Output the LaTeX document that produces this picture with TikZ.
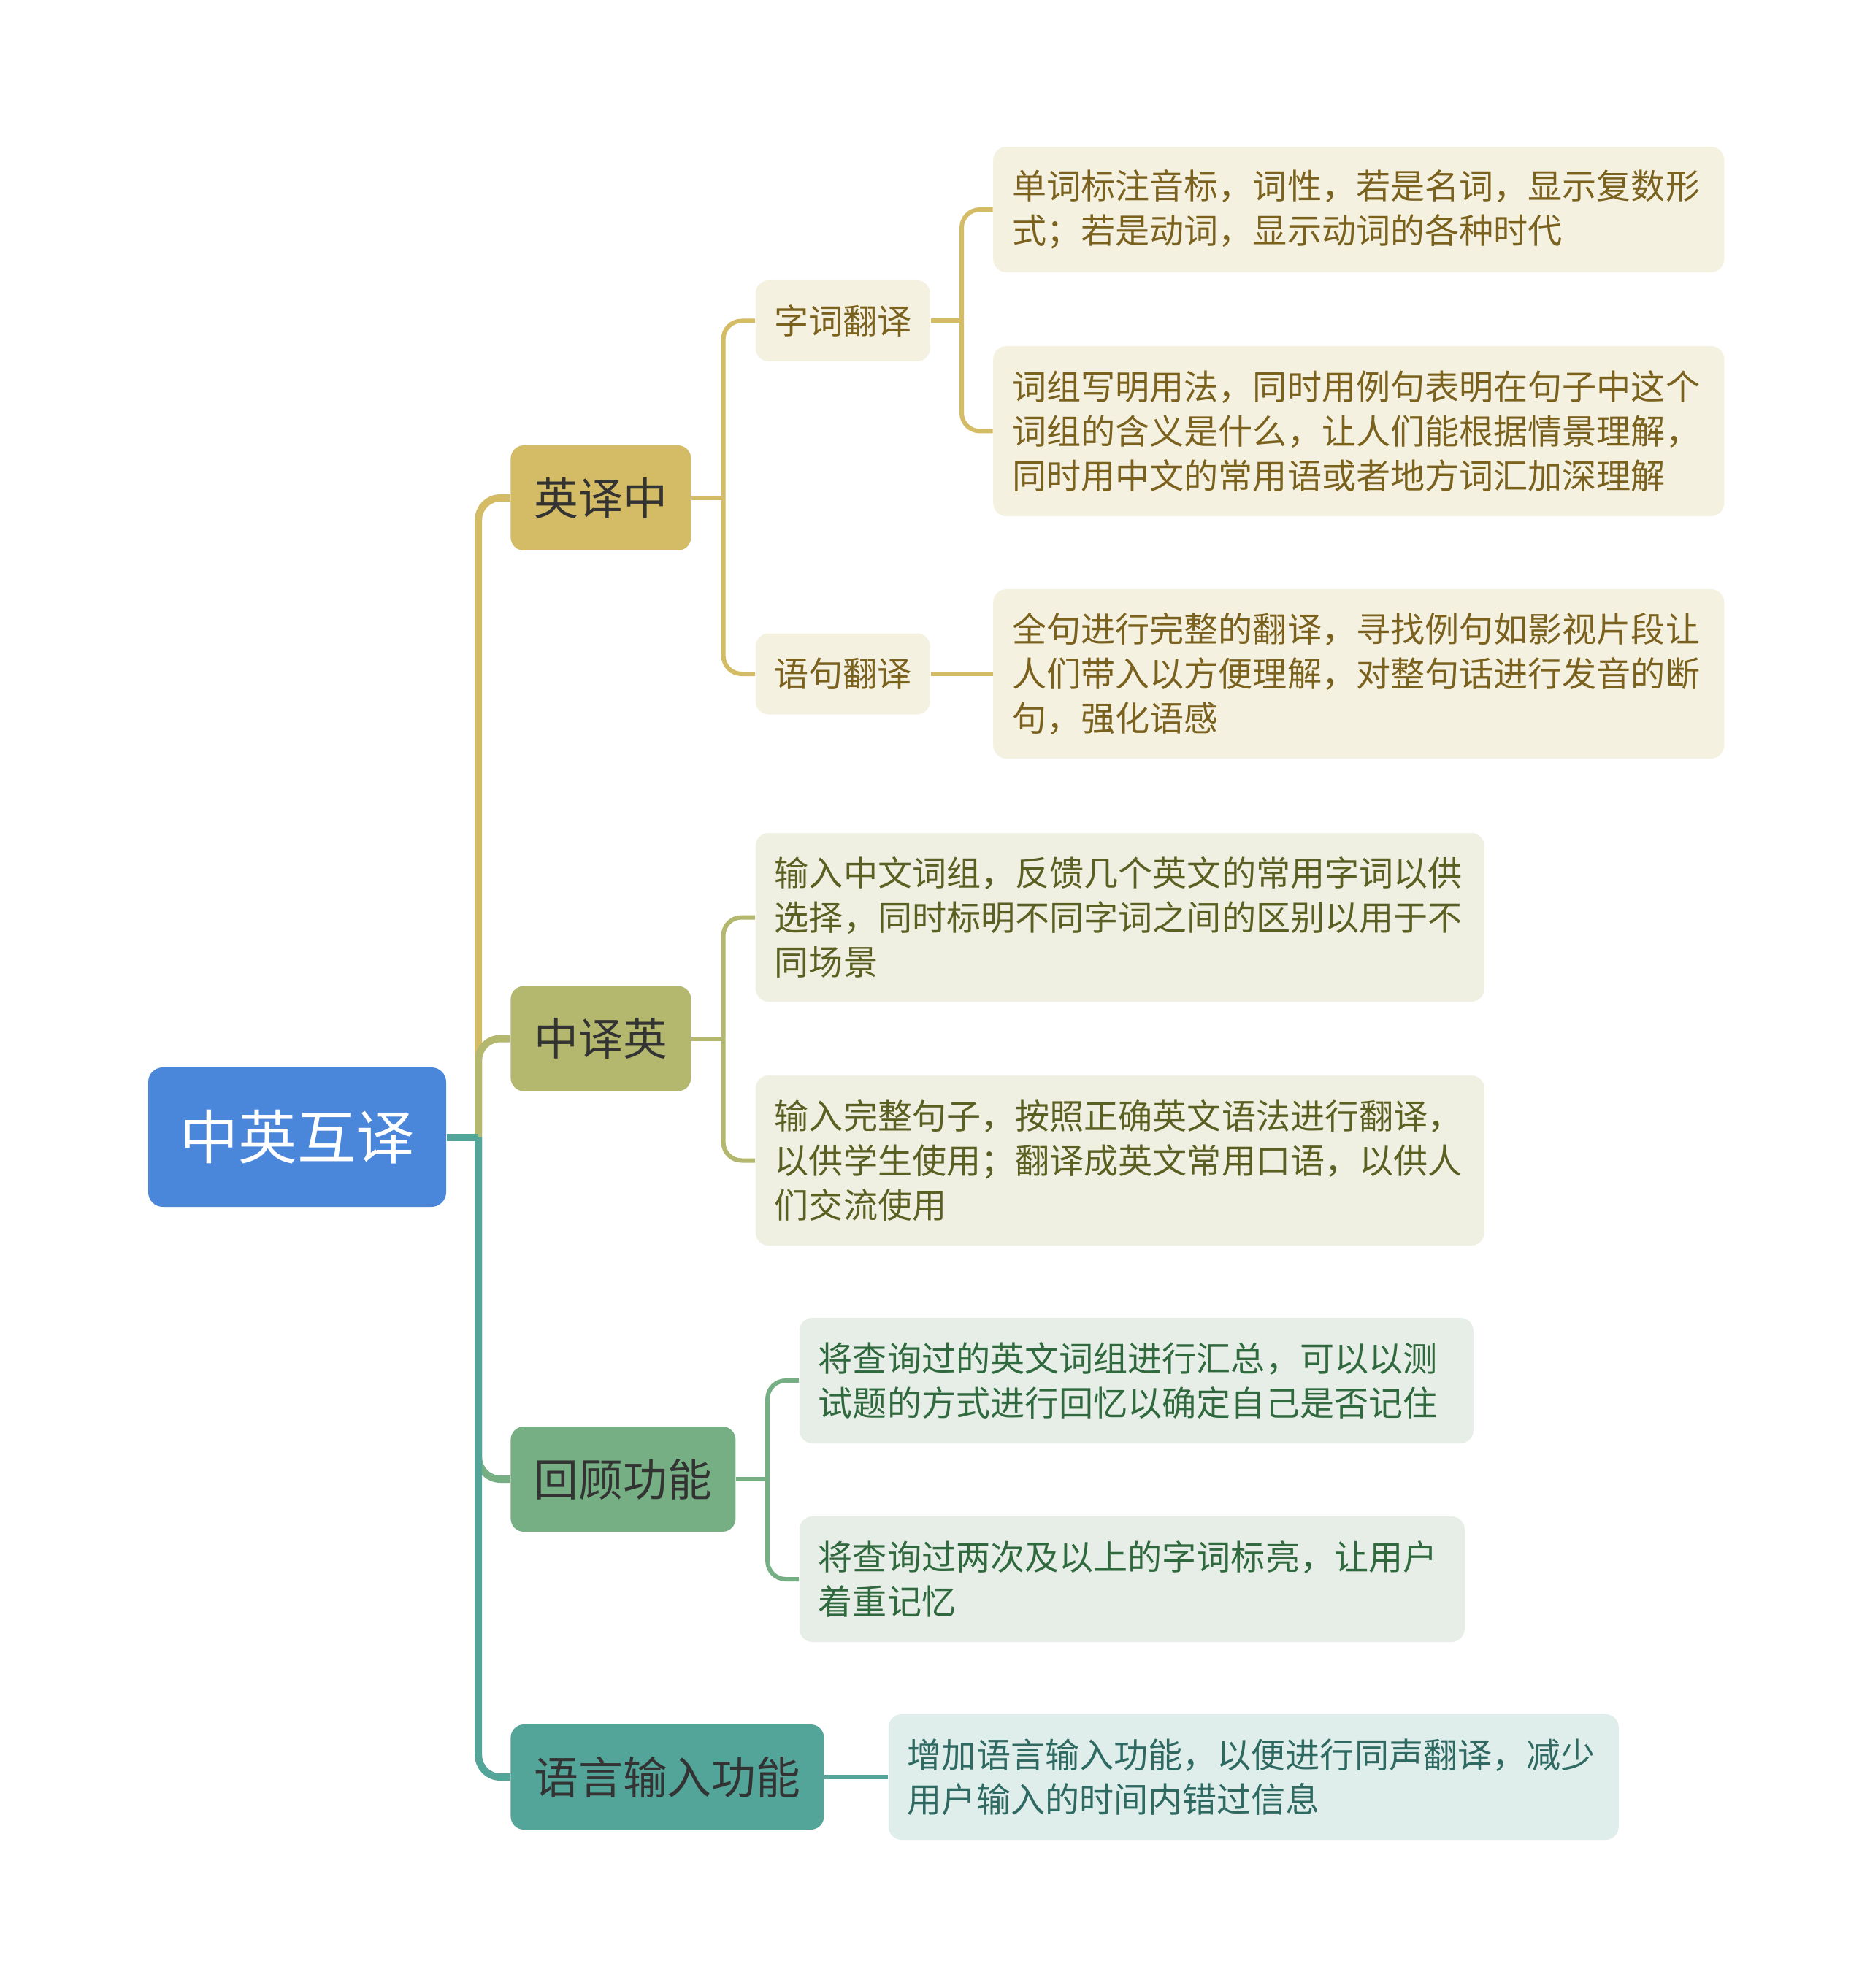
\documentclass[tikz,border=0pt]{standalone}
\usepackage{fontspec}
\setmainfont{Noto Sans CJK SC}
\usepackage{tikz}
\usetikzlibrary{positioning}
\definecolor{rootblue}{HTML}{4A86DA}
\definecolor{topictext}{HTML}{333333}
\definecolor{goldline}{HTML}{D4BB66}
\definecolor{goldfill}{HTML}{F5F1E0}
\definecolor{goldtext}{HTML}{7A611E}
\definecolor{oliveline}{HTML}{B3B86E}
\definecolor{olivefill}{HTML}{EFEFE2}
\definecolor{olivetext}{HTML}{5A5F22}
\definecolor{greenline}{HTML}{77AF85}
\definecolor{greenfill}{HTML}{E6EEE7}
\definecolor{greentext}{HTML}{2F693D}
\definecolor{tealline}{HTML}{53A499}
\definecolor{tealfill}{HTML}{DFEDEB}
\definecolor{tealtext}{HTML}{2E6962}
\tikzstyle{root box}=[rounded corners=0.2cm,fill=rootblue,text=white,minimum width=4.08cm,minimum height=1.91cm,font=\fontsize{22.8pt}{26pt}\selectfont]
\tikzstyle{topic box}=[rounded corners=0.18cm,inner xsep=0.31cm,minimum height=1.44cm,text=topictext,font=\fontsize{17.3pt}{20pt}\selectfont]
\tikzstyle{sub box}=[rounded corners=0.18cm,inner xsep=0.24cm,minimum width=2.39cm,minimum height=1.11cm,font=\fontsize{13.4pt}{17.3pt}\selectfont]
\tikzstyle{leaf box}=[rounded corners=0.18cm,inner xsep=0.26cm,align=left,minimum height=1.72cm,font=\fontsize{13.4pt}{17.3pt}\selectfont]
\tikzstyle{gold leaf}=[leaf box,fill=goldfill,text=goldtext]
\tikzstyle{olive leaf}=[leaf box,fill=olivefill,text=olivetext]
\tikzstyle{green leaf}=[leaf box,fill=greenfill,text=greentext]
\tikzstyle{teal leaf}=[leaf box,fill=tealfill,text=tealtext]
\tikzstyle{map edge}=[line width=0.1cm,rounded corners=0.3cm]
\tikzstyle{sub edge}=[line width=0.06cm,rounded corners=0.25cm]
\newcommand{\mapnode}[3][]{
  \node [#1] (#2) {#3}
}

\begin{document}
\begin{tikzpicture}[node distance=1cm]
        \fill[white] (0,0) rectangle (25.6,-27.23);
        \mapnode[root box, at={(4.07,-15.575)}]{root}{中英互译};
        % main topics
        \mapnode[topic box, fill=goldline, minimum width=2.47cm, right=0.87cm of root, yshift=8.755cm]{yz}{英译中};
        \mapnode[topic box, fill=oliveline, minimum width=2.47cm, right=0.87cm of root, yshift=1.35cm]{zy}{中译英};
        \mapnode[topic box, fill=greenline, minimum width=3.08cm, right=0.87cm of root, yshift=-4.685cm]{hg}{回顾功能};
        \mapnode[topic box, fill=tealline, minimum width=4.29cm, right=0.87cm of root, yshift=-8.765cm]{yy}{语言输入功能};
        % 英译中
        \mapnode[sub box, fill=goldfill, text=goldtext, right=0.87cm of yz, yshift=2.425cm]{zc}{字词翻译};
        \mapnode[sub box, fill=goldfill, text=goldtext, right=0.87cm of yz, yshift=-2.41cm]{jz}{语句翻译};
        \mapnode[gold leaf, text width=9.49cm, right=0.85cm of zc, yshift=1.525cm]{l1}{单词标注音标，词性，若是名词，显示复数形\\式；若是动词，显示动词的各种时代};
        \mapnode[gold leaf, text width=9.49cm, minimum height=2.33cm, right=0.85cm of zc, yshift=-1.51cm]{l2}{词组写明用法，同时用例句表明在句子中这个\\词组的含义是什么，让人们能根据情景理解，\\同时用中文的常用语或者地方词汇加深理解};
        \mapnode[gold leaf, text width=9.49cm, minimum height=2.32cm, right=0.85cm of jz]{l3}{全句进行完整的翻译，寻找例句如影视片段让\\人们带入以方便理解，对整句话进行发音的断\\句，强化语感};
        % 中译英
        \mapnode[olive leaf, text width=9.46cm, minimum height=2.31cm, right=0.87cm of zy, yshift=1.66cm]{l4}{输入中文词组，反馈几个英文的常用字词以供\\选择，同时标明不同字词之间的区别以用于不\\同场景};
        \mapnode[olive leaf, text width=9.46cm, minimum height=2.33cm, right=0.87cm of zy, yshift=-1.67cm]{l5}{输入完整句子，按照正确英文语法进行翻译，\\以供学生使用；翻译成英文常用口语，以供人\\们交流使用};
        % 回顾功能
        \mapnode[green leaf, text width=8.71cm, right=0.86cm of hg, yshift=1.35cm]{l6}{将查询过的英文词组进行汇总，可以以测\\试题的方式进行回忆以确定自己是否记住};
        \mapnode[green leaf, text width=8.59cm, right=0.86cm of hg, yshift=-1.37cm]{l7}{将查询过两次及以上的字词标亮，让用户\\着重记忆};
        % 语言输入功能
        \mapnode[teal leaf, text width=9.48cm, right=0.87cm of yy]{l8}{增加语言输入功能，以便进行同声翻译，减少\\用户输入的时间内错过信息};

        \coordinate[right=0.435cm of root] (jroot);
        \coordinate[right=0.435cm of yz] (jyz);
        \coordinate[right=0.425cm of zc] (jzc);
        \coordinate[right=0.435cm of zy] (jzy);
        \coordinate[right=0.43cm of hg] (jhg);

        \draw[map edge, goldline] (jroot) |- (yz.west);
        \draw[sub edge, goldline] (yz.east) -- (jyz);
        \draw[sub edge, goldline] (jyz) |- (zc.west);
        \draw[sub edge, goldline] (jyz) |- (jz.west);
        \draw[sub edge, goldline] (zc.east) -- (jzc);
        \draw[sub edge, goldline] (jzc) |- (l1.west);
        \draw[sub edge, goldline] (jzc) |- (l2.west);
        \draw[sub edge, goldline] (jz.east) -- (l3.west);

        \draw[map edge, oliveline] (jroot) |- (zy.west);
        \draw[sub edge, oliveline] (zy.east) -- (jzy);
        \draw[sub edge, oliveline] (jzy) |- (l4.west);
        \draw[sub edge, oliveline] (jzy) |- (l5.west);

        \draw[map edge, greenline] (jroot) |- (hg.west);
        \draw[sub edge, greenline] (hg.east) -- (jhg);
        \draw[sub edge, greenline] (jhg) |- (l6.west);
        \draw[sub edge, greenline] (jhg) |- (l7.west);

        \draw[map edge, tealline] (jroot) |- (yy.west);
        \draw[sub edge, tealline] (yy.east) -- (l8.west);
        \draw[map edge, tealline] (root.east) -- (jroot);
\end{tikzpicture}
\end{document}
